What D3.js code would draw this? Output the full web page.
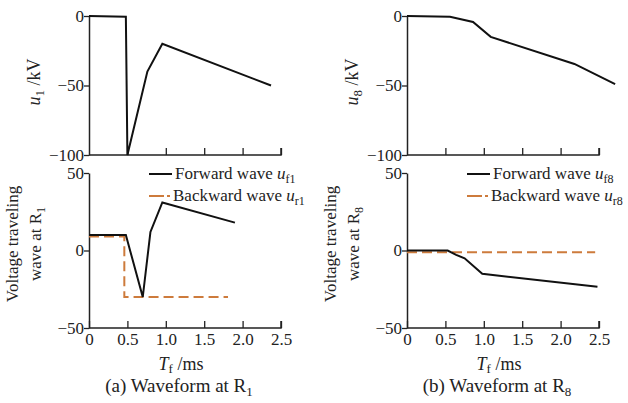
<!DOCTYPE html>
<html>
<head>
<meta charset="utf-8">
<script src="https://cdn.jsdelivr.net/npm/d3@7"></script>
<style>
  body { margin: 0; background: #fff; }
</style>
</head>
<body>
<svg width="628" height="403"></svg>
<script>
// time (ms) and voltage (kV)
var u1T = [0, 0.48, 0.5, 0.76, 0.955, 2.37];
var u1V = [0, -0.5, -100, -40, -20, -50];
var f1T = [0, 0.48, 0.70, 0.80, 0.955, 1.90];
var f1V = [10, 10, -30, 12, 31, 18];
var r1T = [0, 0.46, 0.46, 1.81];
var r1V = [9, 9, -30, -30];

var u8T = [0, 0.56, 0.86, 1.09, 2.18, 2.71];
var u8V = [0, -0.5, -4.3, -15, -34.5, -49];
var f8T = [0, 0.53, 0.64, 0.75, 0.98, 2.48];
var f8V = [0, 0, -2.8, -5, -15, -23.4];
var r8T = [0, 2.45];
var r8V = [-1.1, -1.1];

var xTicks = [0, 0.5, 1.0, 1.5, 2.0, 2.5];
var topTicks = [0, -50, -100];
var botTicks = [50, 0, -50];

var orange = "#cd7b3c";
var serif = "Liberation Serif";
var svg = d3.select("svg");

function zip(t, v) { return t.map(function (d, i) { return [d, v[i]]; }); }
function fmt(d) { return d < 0 ? "\u2212" + Math.abs(d) : String(d); }

function panel(o) {
  var x = d3.scaleLinear().domain([0, 2.5]).range([o.x0, o.x0 + 192]);
  var yt = d3.scaleLinear().domain([-100, 0]).range([155, 16]);
  var yb = d3.scaleLinear().domain([-50, 50]).range([328, 173]);
  var g = svg.append("g");

  // top plot axes
  var ax = g.append("g").attr("transform", "translate(0,155)")
    .call(d3.axisBottom(x).tickValues(xTicks.slice(1)).tickSize(-7).tickFormat(""));
  var ay = g.append("g").attr("transform", "translate(" + o.x0 + ",0)")
    .call(d3.axisLeft(yt).tickValues(topTicks).tickSize(5).tickSizeOuter(0).tickFormat(fmt));
  // bottom plot axes
  var bx = g.append("g").attr("transform", "translate(0,328)")
    .call(d3.axisBottom(x).tickValues(xTicks).tickSize(-7).tickFormat(d3.format(".1f")));
  var by = g.append("g").attr("transform", "translate(" + o.x0 + ",0)")
    .call(d3.axisLeft(yb).tickValues(botTicks).tickSize(5).tickSizeOuter(0).tickFormat(fmt));

  [ax, ay, bx, by].forEach(function (a) {
    a.attr("font-family", null).attr("font-size", null);
    a.selectAll("path.domain").attr("stroke", "#222").attr("stroke-width", 1.5);
    a.selectAll(".tick line").attr("stroke", "#222").attr("stroke-width", 1.3);
    a.selectAll("text").attr("fill", "#222").attr("font-family", serif).attr("font-size", 17);
  });
  ax.select("path.domain").attr("d", "M" + o.x0 + ",0H" + (o.x0 + 192) + "V-7");
  bx.select("path.domain").attr("d", "M" + o.x0 + ",0H" + (o.x0 + 192) + "V-7");
  bx.selectAll(".tick text").attr("dy", "0.85em").text(function (d) { return d === 0 ? "0" : d3.format(".1f")(d); });
  ay.selectAll(".tick text").attr("x", -5);
  by.selectAll(".tick text").attr("x", -5);

  var line = function (ys) {
    return d3.line().x(function (d) { return x(d[0]); }).y(function (d) { return ys(d[1]); });
  };
  g.append("path").datum(zip(o.uT, o.uV)).attr("d", line(yt))
    .attr("fill", "none").attr("stroke", "#111").attr("stroke-width", 2);
  g.append("path").datum(zip(o.rT, o.rV)).attr("d", line(yb))
    .attr("fill", "none").attr("stroke", orange).attr("stroke-width", 2).attr("stroke-dasharray", "10,5");
  g.append("path").datum(zip(o.fT, o.fV)).attr("d", line(yb))
    .attr("fill", "none").attr("stroke", "#111").attr("stroke-width", 2);

  function txt(sel) { return sel.append("text").attr("font-family", serif).attr("fill", "#222"); }

  // y labels
  var ul = txt(g).attr("transform", "translate(" + (o.x0 - 49) + ",82) rotate(-90)")
    .attr("text-anchor", "middle").attr("font-size", 18);
  ul.append("tspan").attr("font-style", "italic").text("u");
  ul.append("tspan").attr("font-size", 13).attr("dy", 4).text(o.n);
  ul.append("tspan").attr("dy", -4).text(" /kV");

  var vl = g.append("g").attr("transform", "translate(" + (o.x0 - 71) + ",244) rotate(-90)");
  txt(vl).attr("text-anchor", "middle").attr("font-size", 17).text("Voltage traveling");
  var w = txt(vl).attr("text-anchor", "middle").attr("y", 23).attr("font-size", 17);
  w.append("tspan").text("wave at R");
  w.append("tspan").attr("font-size", 12).attr("dy", 4).text(o.n);

  // legend
  var lx = o.x0 + 60;
  g.append("line").attr("x1", lx).attr("x2", lx + 23).attr("y1", 174).attr("y2", 174)
    .attr("stroke", "#111").attr("stroke-width", 2);
  g.append("line").attr("x1", lx).attr("x2", lx + 22).attr("y1", 196).attr("y2", 196)
    .attr("stroke", orange).attr("stroke-width", 2).attr("stroke-dasharray", "15,3,3,10");
  [["Forward wave ", "f", 179, 86], ["Backward wave ", "r", 201, 84]].forEach(function (l) {
    var t = txt(g).attr("x", lx + l[3] - 60).attr("y", l[2]).attr("font-size", 17);
    t.append("tspan").text(l[0]);
    t.append("tspan").attr("font-style", "italic").text("u");
    t.append("tspan").attr("font-size", 12).attr("dy", 4).text(l[1] + o.n);
  });

  // x label and caption
  var cx = o.x0 + 92;
  var tl = txt(g).attr("x", cx).attr("y", 370).attr("text-anchor", "middle").attr("font-size", 18);
  tl.append("tspan").attr("font-style", "italic").text("T");
  tl.append("tspan").attr("font-size", 13).attr("dy", 3).text("f");
  tl.append("tspan").attr("dy", -3).text(" /ms");
  var cp = txt(g).attr("x", cx - 2).attr("y", 392).attr("text-anchor", "middle").attr("font-size", 19);
  cp.append("tspan").text(o.cap);
  cp.append("tspan").attr("font-size", 13).attr("dy", 4).text(o.n);
}

panel({ x0: 89, n: "1", cap: "(a) Waveform at R", uT: u1T, uV: u1V, fT: f1T, fV: f1V, rT: r1T, rV: r1V });
panel({ x0: 407, n: "8", cap: "(b) Waveform at R", uT: u8T, uV: u8V, fT: f8T, fV: f8V, rT: r8T, rV: r8V });
</script>
</body>
</html>
